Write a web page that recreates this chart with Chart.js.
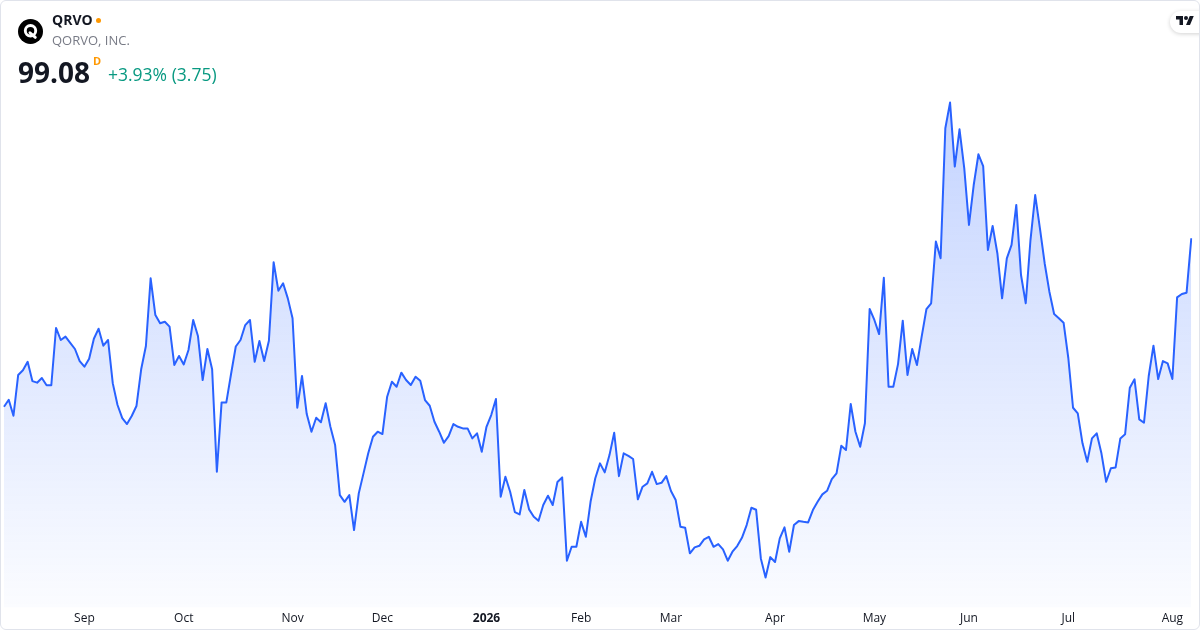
<!DOCTYPE html>
<html>
<head>
<meta charset="utf-8">
<script src="https://cdn.jsdelivr.net/npm/chart.js@4.4.1/dist/chart.umd.min.js"></script>
<style>
  html, body { margin: 0; padding: 0; background: #ffffff; }
  #wrap { position: relative; width: 1200px; height: 630px; overflow: hidden; font-family: "Open Sans", "Noto Sans", sans-serif; }
  #chart { position: absolute; left: 0; top: 0; width: 1200px; height: 630px; }
  #frame { position: absolute; left: 0; top: 0; width: 1200px; height: 630px; box-sizing: border-box; border: 1px solid #e0e3eb; border-radius: 6px; pointer-events: none; }
  .abs { position: absolute; white-space: nowrap; }
  #sym { left: 52px; top: 10px; font-size: 14px; line-height: 20px; font-weight: 700; color: #131722; }
  #dot { left: 95.5px; top: 17.5px; width: 5.5px; height: 5.5px; border-radius: 50%; background: #ff9800; }
  #name { left: 52px; top: 31px; font-size: 13px; line-height: 18px; color: #787b86; }
  #price { left: 18px; top: 53px; font-size: 28px; line-height: 38px; font-weight: 700; color: #131722; }
  #dflag { left: 93px; top: 54px; font-size: 11px; line-height: 14px; font-weight: 700; color: #ff9800; }
  #chg { left: 108px; top: 62px; font-size: 17.5px; line-height: 24px; color: #089981; }
  #badge { left: 1170px; top: 11px; width: 40px; height: 22px; border-radius: 11px 0 0 11px; background: #fff; box-shadow: 0 1px 4px rgba(0,0,0,0.18); }
  #tvlogo { left: 1176px; top: 14px; }
  #qlogo { left: 18px; top: 19px; }
</style>
</head>
<body>
<div id="wrap">
  <canvas id="chart" width="1200" height="630"></canvas>
  <svg id="qlogo" class="abs" width="25" height="25" viewBox="0 0 24 24">
    <circle cx="12" cy="12" r="12" fill="#000"/>
    <circle cx="12" cy="11.3" r="5" fill="none" stroke="#fff" stroke-width="2.8"/>
    <path d="M11.5 13.2 L16.6 17.6" stroke="#fff" stroke-width="2.8" stroke-linecap="round"/>
  </svg>
  <div id="sym" class="abs">QRVO</div>
  <div id="dot" class="abs"></div>
  <div id="name" class="abs">QORVO, INC.</div>
  <div id="price" class="abs">99.08</div>
  <div id="dflag" class="abs">D</div>
  <div id="chg" class="abs">+3.93% (3.75)</div>
  <div id="badge" class="abs"></div>
  <svg id="tvlogo" class="abs" width="18" height="14" viewBox="0 0 36 28">
    <path d="M14 22H7V11H0V4h14v18zM28 22h-8l7.5-18h8L28 22z" fill="#131722"/>
    <circle cx="20" cy="8" r="4" fill="#131722"/>
  </svg>
  <div id="frame"></div>
</div>
<script>
// ---- data ----
const startDate = '2025-08-07';
const marketHolidays = ['2025-09-01','2025-11-27','2025-12-25','2026-01-01','2026-01-19',
  '2026-02-16','2026-04-03','2026-05-25','2026-06-19','2026-07-03'];
const monthNames = ['Jan','Feb','Mar','Apr','May','Jun','Jul','Aug','Sep','Oct','Nov','Dec'];
const closes = [
  87.47,87.95,86.85,89.66,89.98,90.57,89.24,89.13,89.45,88.95,
  88.95,92.90,92.07,92.30,91.88,91.45,90.62,90.23,90.78,92.16,
  92.85,91.68,92.07,89.08,87.59,86.69,86.28,86.83,87.52,90.05,
  91.66,96.32,93.79,93.22,93.33,92.99,90.35,90.97,90.39,91.38,
  93.45,92.35,89.31,91.45,90.05,82.99,87.77,87.77,89.73,91.62,
  92.07,93.10,93.45,90.57,92.00,90.62,92.02,97.43,95.47,95.98,
  94.94,93.57,87.40,89.59,86.97,85.75,86.71,86.40,87.71,86.09,
  84.83,81.38,80.92,81.38,78.97,81.50,82.88,84.26,85.40,85.75,
  85.59,88.16,89.19,88.85,89.82,89.31,88.97,89.54,89.26,87.93,
  87.54,86.44,85.75,84.99,85.45,86.28,86.09,85.98,85.98,85.29,
  85.64,84.37,86.09,86.90,88.00,81.27,82.65,81.61,80.21,80.05,
  81.73,80.40,79.89,79.61,80.70,81.34,80.70,82.28,82.60,76.86,
  77.82,77.82,79.54,78.51,80.92,82.54,83.57,82.95,84.14,85.68,
  82.69,84.26,84.09,83.87,81.09,81.96,82.19,82.99,82.14,82.23,
  82.69,81.66,81.04,79.20,79.13,77.37,77.78,77.89,78.33,78.51,
  77.82,78.01,77.64,76.86,77.48,77.87,78.44,79.32,80.51,80.37,
  77.02,75.71,77.11,76.77,78.40,79.16,77.48,79.32,79.59,79.54,
  79.50,80.35,80.92,81.43,81.68,82.49,82.88,84.78,84.49,87.66,
  85.75,84.71,86.33,94.21,93.45,92.48,96.36,88.85,88.85,90.41,
  93.40,89.66,91.45,90.35,92.30,94.19,94.60,98.85,97.70,106.66,
  108.43,104.02,106.59,103.91,100.00,102.75,104.87,104.06,98.27,99.93,
  98.05,94.94,97.70,98.62,101.38,96.55,94.60,98.96,102.06,99.77,
  97.36,95.40,93.86,93.57,93.26,90.83,87.40,87.02,84.95,83.68,
  85.29,85.64,84.26,82.30,83.23,83.29,85.29,85.57,88.78,89.36,
  86.60,86.37,89.59,91.68,89.38,90.62,90.46,89.38,95.01,95.24,
  95.33,99.08
];

// trading-day categories
const dates = [];
(function () {
  const d = new Date(startDate + 'T00:00:00Z');
  while (dates.length < closes.length) {
    const iso = d.toISOString().slice(0, 10);
    const wd = d.getUTCDay();
    if (wd !== 0 && wd !== 6 && marketHolidays.indexOf(iso) < 0) dates.push(iso);
    d.setUTCDate(d.getUTCDate() + 1);
  }
})();

function tickText(i) {
  if (i <= 0) return '';
  const m = +dates[i].slice(5, 7), pm = +dates[i - 1].slice(5, 7);
  if (m === pm) return '';
  return m === 1 ? dates[i].slice(0, 4) : monthNames[m - 1];
}

const ctx = document.getElementById('chart').getContext('2d');
new Chart(ctx, {
  type: 'line',
  data: {
    labels: dates,
    datasets: [{
      data: closes,
      borderColor: '#2962ff',
      borderWidth: 2,
      pointRadius: 0,
      pointHoverRadius: 0,
      tension: 0,
      borderJoinStyle: 'round',
      fill: 'start',
      backgroundColor: (c) => {
        const ca = c.chart.chartArea;
        if (!ca) return 'rgba(41,98,255,0.12)';
        const g = c.chart.ctx.createLinearGradient(0, 100, 0, ca.bottom);
        g.addColorStop(0, 'rgba(41,98,255,0.28)');
        g.addColorStop(1, 'rgba(41,98,255,0.02)');
        return g;
      }
    }]
  },
  options: {
    responsive: false,
    animation: false,
    devicePixelRatio: 1,
    layout: { padding: { left: 2.7, right: 8.7, top: 0, bottom: 0 } },
    plugins: { legend: { display: false }, tooltip: { enabled: false } },
    scales: {
      x: {
        type: 'category',
        offset: false,
        border: { display: false },
        grid: { display: false, drawTicks: false, tickLength: 0 },
        ticks: {
          autoSkip: false,
          maxRotation: 0,
          minRotation: 0,
          padding: 4,
          color: '#131722',
          font: (c) => ({ family: '"Open Sans", "Noto Sans", sans-serif', size: 12,
            weight: (c.index !== undefined && tickText(c.index).length === 4) ? '700' : '400' }),
          callback: (v, i) => tickText(i)
        }
      },
      y: {
        display: false,
        min: 73.63,
        max: 115.5
      }
    }
  }
});
</script>
</body>
</html>
